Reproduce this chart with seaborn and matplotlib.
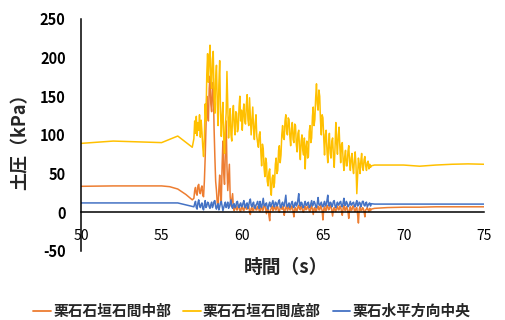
import numpy as np
import pandas as pd
import matplotlib
matplotlib.use("Agg")
import matplotlib.pyplot as plt
import seaborn as sns

# ---- data -------------------------------------------------------------
series_names = ["栗石石垣石間中部", "栗石石垣石間底部", "栗石水平方向中央"]
series_colors = ["#ED7D31", "#FFC000", "#4472C4"]

# quiet period before shaking
t_pre_mid = [50, 52, 55, 55.5, 56, 56.5, 56.9]
v_pre_mid = [33.5, 34, 34, 33, 30, 23, 16]
t_pre_bot = [50, 52, 55, 56, 56.9]
v_pre_bot = [89, 92, 90, 98.5, 84]
t_pre_hor = [50, 52, 55, 56, 56.9]
v_pre_hor = [12, 12, 12, 12, 7.5]

# shaking period, sampled every 0.05 s from 57.00 s to 68.00 s
burst_start, burst_step = 57.0, 0.05
v_burst_mid = [
    18, 28, 32, 24, 22, 34, 36, 26, 24, 31,
    34, 22, 20, 40, 70, 110, 150, 128, 118, 160,
    176, 140, 130, 158, 168, 110, 72, 40, 28, 12,
    6, 30, 48, 22, 14, 60, 92, 50, 36, 80,
    118, 60, 28, 44, 62, 20, 8, 16, 24, 6,
    2, 7, 8, 3, 3, 9, 9, 2, 1, 6,
    7, 3, 2, 8, 9, 4, 4, 7, 8, 1,
    -3, 5, 6, 2, 2, 8, 9, 3, 3, 7,
    8, 2, 1, 6, 7, 2, 3, 9, 10, 4,
    -2, 5, 6, -4, -11, 3, 5, 8, 2, 6,
    8, 3, 3, 9, 7, 1, 0, 6, 9, 4,
    4, 8, -4, 2, 6, 9, 2, 5, 8, 3,
    3, 8, 7, 1, -6, 4, 6, 2, 2, 7,
    9, 4, 3, 8, 6, 1, 0, 5, 8, 3,
    4, 8, 7, 2, 1, 6, 9, 3, -3, 5,
    6, 1, 2, 7, 8, 3, 3, 9, 6, 2,
    -10, 4, 7, 2, 2, 9, 8, 3, 4, 8,
    9, 2, -5, 4, 6, 2, 1, 7, 8, 3,
    3, 8, 7, 1, -4, 5, 9, 3, 2, 7,
    6, 1, -8, 3, 7, 2, 3, 8, 8, 2,
    1, 5, 6, -3, -14, 4, 7, 2, 2, 6,
    5, 1, -6, 3, 4, 6, 3, 1, 5, 2,
    4,
]
v_burst_bot = [
    95, 118, 102, 124, 99, 116, 106, 126, 97, 119,
    104, 85, 72, 96, 140, 118, 178, 205, 168, 196,
    216, 175, 160, 198, 208, 150, 128, 172, 190, 140,
    112, 165, 196, 130, 98, 125, 142, 96, 76, 110,
    128, 182, 140, 96, 118, 134, 100, 92, 126, 138,
    112, 100, 130, 128, 104, 108, 136, 150, 118, 132,
    106, 128, 140, 118, 114, 138, 152, 120, 112, 148,
    124, 100, 118, 136, 108, 94, 115, 126, 98, 90,
    84, 100, 104, 78, 60, 88, 82, 58, 46, 70,
    64, 40, 34, 52, 56, 30, 22, 44, 48, 32,
    38, 62, 70, 50, 54, 80, 86, 64, 74, 100,
    112, 96, 94, 118, 126, 104, 100, 122, 120, 98,
    86, 108, 116, 94, 90, 114, 112, 88, 78, 102,
    106, 82, 68, 92, 100, 80, 74, 96, 56, 84,
    92, 70, 72, 104, 112, 90, 96, 124, 136, 112,
    120, 148, 166, 140, 132, 158, 150, 118, 100, 126,
    122, 96, 74, 100, 106, 80, 64, 88, 102, 76,
    70, 92, 96, 72, 58, 84, 116, 90, 75, 100,
    110, 84, 64, 88, 90, 68, 54, 72, 80, 60,
    60, 78, 86, 66, 54, 70, 76, 58, 50, 68,
    78, 60, 24, 48, 70, 62, 50, 66, 76, 58,
    54, 68, 72, 60, 54, 64, 66, 56, 62, 58,
    60,
]
v_burst_hor = [
    7, 11, 14, 6, 4, 12, 16, 9, 6, 10,
    12, 5, 3, 10, 15, 6, 8, 13, 12, 7,
    5, 10, 13, 6, 9, 14, 15, 7, 4, 9,
    11, 3, 7, 12, 14, 8, 2, 6, 10, 13,
    6, 9, 13, 5, 8, 12, 16, 7, 5, 10,
    11, 6, 7, 13, 14, 8, 6, 10, 12, 7,
    8, 12, 15, 7, 6, 11, 12, 5, 9, 14,
    17, 9, 7, 11, 13, 6, 5, 9, 11, 14,
    9, 5, 14, 8, 6, 12, 18, 9, 8, 11,
    12, 6, 4, 10, 13, 7, 9, 12, 15, 8,
    7, 13, 12, 8, 10, 14, 16, 7, 6, 11,
    13, 8, 8, 15, 22, 9, 7, 10, 12, 6,
    9, 12, 14, 7, 6, 11, 13, 8, 10, 16,
    24, 10, 8, 13, 12, 6, 6, 11, 14, 9,
    9, 12, 13, 6, 7, 11, 15, 8, 10, 14,
    12, 7, 6, 12, 19, 10, 9, 11, 13, 8,
    7, 11, 14, 8, 10, 15, 22, 9, 8, 13,
    12, 7, 9, 14, 15, 8, 6, 10, 13, 9,
    10, 13, 14, 8, 7, 12, 18, 9, 9, 14,
    12, 7, 8, 11, 14, 9, 10, 12, 13, 8,
    7, 12, 15, 8, 9, 13, 12, 7, 10, 14,
    14, 9, 8, 12, 13, 7, 9, 11, 12, 8,
    11,
]

# quiet period after shaking
t_post = [68.2, 69, 70, 71, 72, 73, 74, 75]
v_post_mid = [5, 6, 6.5, 6.5, 7, 7, 7, 7]
v_post_bot = [61, 61, 61, 59.5, 61, 62, 62.5, 62]
v_post_hor = [10.5, 10.5, 10.5, 10.5, 10.5, 10.5, 10.5, 10.5]

x_ticks = [50, 55, 60, 65, 70, 75]
y_ticks = [-50, 0, 50, 100, 150, 200, 250]

# ---- assemble long table ---------------------------------------------
t_burst = np.round(burst_start + burst_step * np.arange(len(v_burst_bot)), 3)

frames = []
for name, tp, vp, vb, vq in [
    (series_names[0], t_pre_mid, v_pre_mid, v_burst_mid, v_post_mid),
    (series_names[1], t_pre_bot, v_pre_bot, v_burst_bot, v_post_bot),
    (series_names[2], t_pre_hor, v_pre_hor, v_burst_hor, v_post_hor),
]:
    t = np.concatenate([tp, t_burst[:len(vb)], t_post])
    v = np.concatenate([vp, vb, vq])
    frames.append(pd.DataFrame({"time": t, "pressure": v, "series": name}))
df = pd.concat(frames, ignore_index=True)

# ---- plot -------------------------------------------------------------
sns.set_style("white")
plt.rcParams["font.family"] = ["Noto Sans CJK JP", "DejaVu Sans"]

fig = plt.figure(figsize=(5.06, 3.2), dpi=100)
ax = fig.add_axes([0.160, 0.216, 0.797, 0.725])

sns.lineplot(
    data=df, x="time", y="pressure", hue="series",
    hue_order=series_names, palette=series_colors,
    sort=False, estimator=None, linewidth=1.1, ax=ax, legend=False,
)

ax.set_xlim(50, 75)
ax.set_ylim(-50, 250)
ax.set_xticks(x_ticks)
ax.set_yticks(y_ticks)
ax.set_xticklabels([str(v) for v in x_ticks], fontsize=10.5, fontweight="bold")
ax.set_yticklabels([str(v) for v in y_ticks], fontsize=10.5, fontweight="bold")

for s in ["top", "right"]:
    ax.spines[s].set_visible(False)
ax.spines["bottom"].set_position(("data", 0))
ax.spines["bottom"].set_color("black")
ax.spines["bottom"].set_linewidth(1.1)
ax.spines["left"].set_color("black")
ax.spines["left"].set_linewidth(1.1)
ax.tick_params(axis="x", direction="in", length=4, width=1, pad=12, colors="black")
ax.tick_params(axis="y", direction="in", length=4, width=1, pad=11, colors="black")

ax.set_xlabel("")
ax.set_ylabel("")
fig.text(0.566, 0.163, "時間（s）", ha="center", va="center",
         fontsize=13.5, fontweight="bold")
fig.text(0.04, 0.572, "土圧（kPa）", ha="center", va="center",
         rotation=90, fontsize=13, fontweight="bold")

handles = [plt.Line2D([], [], color=c, linewidth=1.3) for c in series_colors]
fig.legend(handles, series_names, loc="center", bbox_to_anchor=(0.498, 0.028),
           ncol=3, frameon=False, handlelength=1.2,
           handletextpad=0.15, columnspacing=0.8,
           prop={"size": 10.6, "weight": "bold"})

fig.savefig("out.png", dpi=100)
